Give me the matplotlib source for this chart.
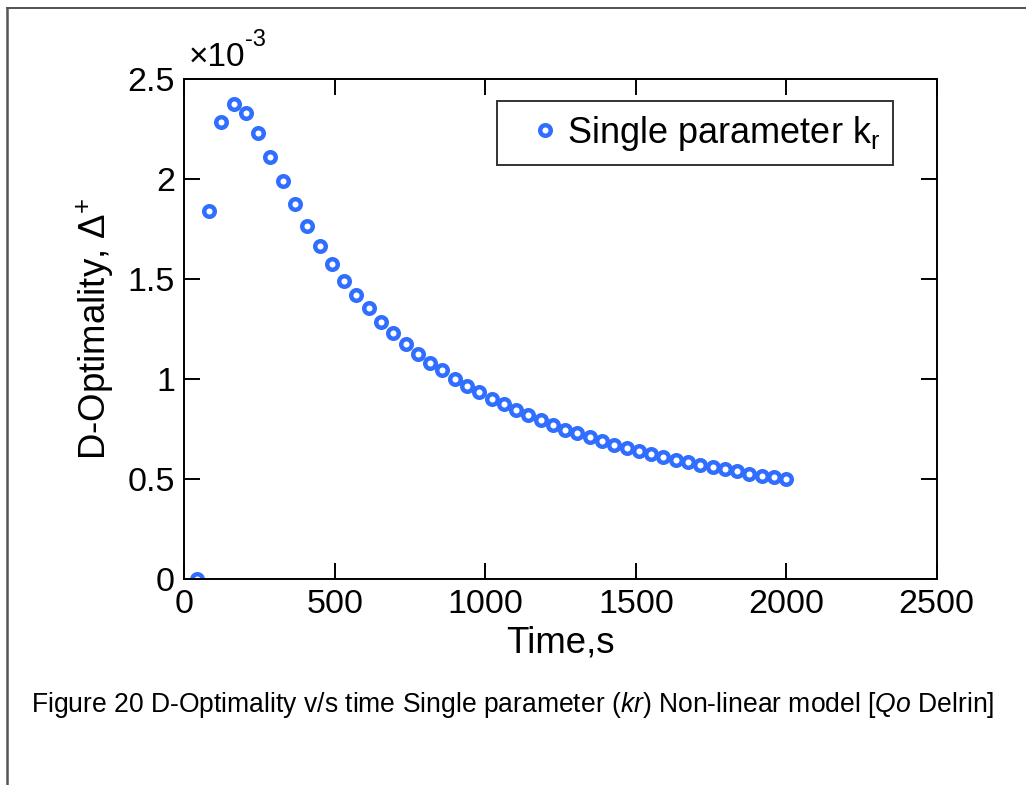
import matplotlib
matplotlib.use("Agg")
import matplotlib.pyplot as plt
from matplotlib.lines import Line2D

plt.rcParams["font.family"] = ["Liberation Sans", "DejaVu Sans"]
plt.rcParams["mathtext.fontset"] = "custom"
plt.rcParams["mathtext.rm"] = "Liberation Sans"
plt.rcParams["mathtext.it"] = "Liberation Sans:italic"

# time samples (s)
time_s = [
    40.8, 81.6, 122.4, 163.3, 204.1, 244.9, 285.7, 326.5, 367.3, 408.2,
    449.0, 489.8, 530.6, 571.4, 612.2, 653.1, 693.9, 734.7, 775.5, 816.3,
    857.1, 898.0, 938.8, 979.6, 1020.4, 1061.2, 1102.0, 1142.9, 1183.7, 1224.5,
    1265.3, 1306.1, 1346.9, 1387.8, 1428.6, 1469.4, 1510.2, 1551.0, 1591.8, 1632.7,
    1673.5, 1714.3, 1755.1, 1795.9, 1836.7, 1877.6, 1918.4, 1959.2, 2000.0,
]
# D-optimality, in units of 1e-3
d_opt = [
    0.0, 1.84, 2.285, 2.377, 2.33, 2.232, 2.112, 1.992, 1.873, 1.767,
    1.667, 1.577, 1.490, 1.418, 1.353, 1.283, 1.228, 1.177, 1.127, 1.082,
    1.043, 1.002, 0.965, 0.933, 0.902, 0.873, 0.844, 0.818, 0.794, 0.768,
    0.747, 0.728, 0.708, 0.688, 0.672, 0.657, 0.638, 0.625, 0.610, 0.597,
    0.583, 0.570, 0.558, 0.548, 0.538, 0.525, 0.515, 0.508, 0.498,
]
x_ticks = [0, 500, 1000, 1500, 2000, 2500]
y_ticks = [0, 0.5, 1, 1.5, 2, 2.5]
y_tick_labels = ["0", "0.5", "1", "1.5", "2", "2.5"]

blue = "#2F6EFF"

fig = plt.figure(figsize=(10.26, 7.85), dpi=100)
ax = fig.add_axes([0.1798, 0.2624, 0.7332, 0.637])

ax.plot(time_s, d_opt, linestyle="none", marker="o", markersize=7.6,
        markeredgewidth=3.2, markerfacecolor="white", markeredgecolor=blue,
        label=r"Single parameter k$_{\mathrm{r}}$")

ax.set_xlim(0, 2500)
ax.set_ylim(0, 2.5)
ax.set_xticks(x_ticks)
ax.set_yticks(y_ticks)
ax.set_yticklabels(y_tick_labels)
ax.tick_params(direction="in", length=11.5, width=1.4, labelsize=24.5,
               top=True, right=True, pad=7)
for side in ax.spines.values():
    side.set_linewidth(1.4)

ax.set_xlabel("Time,s", fontsize=26.4, labelpad=4)
ax.set_ylabel(r"D-Optimality, $\Delta^{+}$", fontsize=26.4, labelpad=8)

# exponent multiplier above the y axis
mult = ax.text(0.006, 1.012, "\u00d710", transform=ax.transAxes,
               fontsize=24, ha="left", va="bottom")
ax.annotate("-3", xy=(1.0, 0.72), xycoords=mult, fontsize=17,
            ha="left", va="bottom")

leg = ax.legend(loc="upper right", bbox_to_anchor=(0.942, 0.956),
                fontsize=26, frameon=True, fancybox=False, numpoints=1,
                handlelength=2.0, handletextpad=-0.4, borderpad=0.35,
                borderaxespad=0)
leg.get_frame().set_edgecolor("black")
leg.get_frame().set_linewidth(1.4)

fig.text(0.5, 1 - 705 / 785, r"Figure 20 D-Optimality v/s time Single parameter ($\mathit{kr}$) "
         r"Non-linear model [$\mathit{Qo}$ Delrin]",
         ha="center", va="center", fontsize=19.1)

# page border lines (top and left)
fig.add_artist(Line2D([7 / 1026, 1.0], [1 - 8 / 785, 1 - 8 / 785],
                      transform=fig.transFigure, color="#333333", lw=1.2))
fig.add_artist(Line2D([7 / 1026, 7 / 1026], [0.0, 1 - 8 / 785],
                      transform=fig.transFigure, color="#555555", lw=1.8))

fig.savefig("out.png", dpi=100)
